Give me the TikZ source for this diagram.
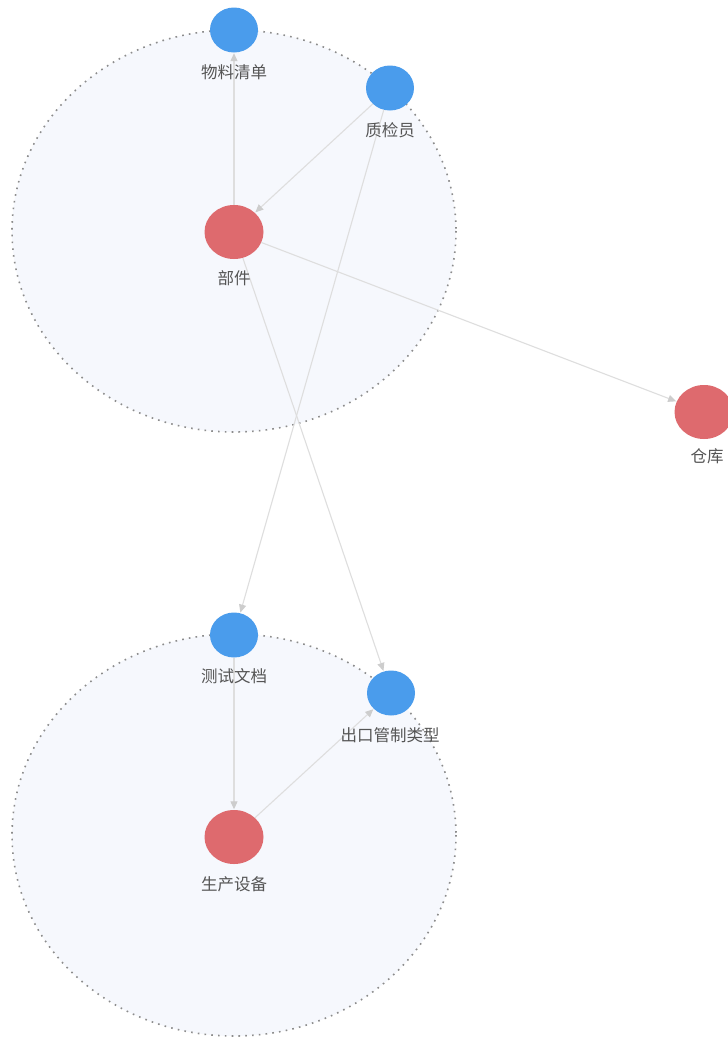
\documentclass[tikz,border=0pt]{standalone}
\usepackage{fontspec}
\newfontfamily\cjk{Noto Sans CJK SC}
\usetikzlibrary{shapes.geometric,arrows.meta}
\definecolor{nodeblue}{RGB}{74,156,236}
\definecolor{nodered}{RGB}{222,106,110}
\definecolor{groupfill}{RGB}{246,248,253}
\definecolor{groupline}{RGB}{140,140,140}
\definecolor{edgecol}{RGB}{222,222,222}
\definecolor{tipcol}{RGB}{205,205,205}
\definecolor{labcol}{RGB}{85,85,85}
\tikzset{
  x=1pt, y=-1pt,
  group/.style={draw=groupline, fill=groupfill, line width=1.6pt, dash pattern=on 1.6pt off 5.2pt},
  bnode/.style={ellipse, fill=nodeblue, minimum width=48pt, minimum height=45pt, inner sep=0pt},
  rnode/.style={ellipse, fill=nodered, minimum width=59pt, minimum height=54pt, inner sep=0pt},
  lab/.style={text=labcol, font=\cjk\fontsize{16.5}{16.5}\selectfont, inner sep=0pt},
  edge/.style={draw=edgecol, line width=1.1pt, -{Triangle[length=8pt,width=7pt,fill=tipcol,color=tipcol]}, shorten >=0.5pt},
}
\begin{document}
\begin{tikzpicture}
\useasboundingbox (0,0) rectangle (728,1039);
\fill[white] (0,0) rectangle (728,1039);
% groups
\path[group] (234,231) ellipse [x radius=222, y radius=201];
\path[group] (234,835) ellipse [x radius=222, y radius=201];
% nodes
\node[bnode] (wlqd) at (234,30) {};
\node[bnode] (zjy) at (390,88) {};
\node[rnode] (bj) at (234,232) {};
\node[rnode] (ck) at (704,412) {};
\node[bnode] (cswd) at (234,635) {};
\node[bnode] (ckgz) at (391,693) {};
\node[rnode] (scsb) at (234,837) {};
% edges
\path[edge] (bj) -- (wlqd);
\path[edge] (zjy) -- (bj);
\path[edge] (zjy) -- (cswd);
\path[edge] (bj) -- (ckgz);
\path[edge] (bj) -- (ck);
\path[edge] (cswd) -- (scsb);
\path[edge] (scsb) -- (ckgz);
% labels
\node[lab] (l1) at (234,72) {物料清单};
\node[lab] (l2) at (390,130) {质检员};
\node[lab] (l3) at (234,278) {部件};
\node[lab] (l4) at (707,456) {仓库};
\node[lab] (l5) at (234,676) {测试文档};
\node[lab] (l6) at (390,735) {出口管制类型};
\node[lab] (l7) at (234,884) {生产设备};
\end{tikzpicture}
\end{document}
